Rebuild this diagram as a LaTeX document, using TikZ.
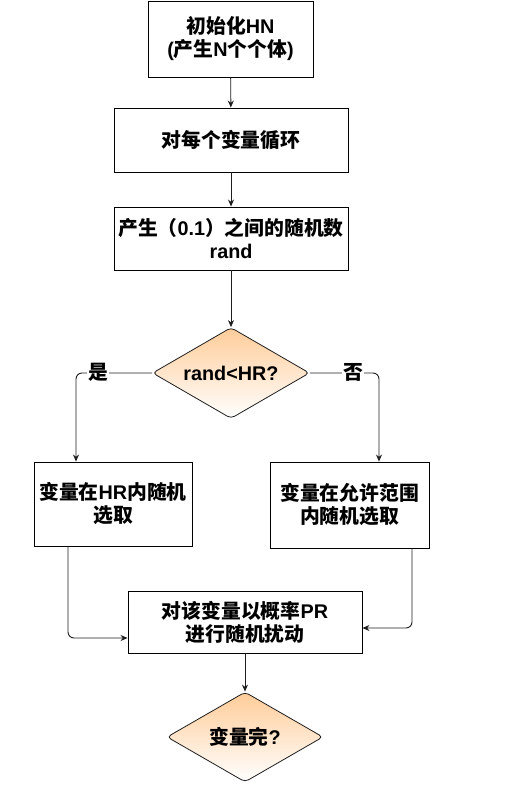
\documentclass[tikz,border=0pt]{standalone}
\usepackage{fontspec}
\setmainfont{Liberation Sans}
\newfontfamily\cjk{Noto Sans CJK SC}
\usetikzlibrary{shapes.geometric,arrows.meta}
\newcommand\zh[1]{{\cjk #1}}
\definecolor{decfill}{RGB}{255,204,153}
\definecolor{linec}{RGB}{30,30,30}
\begin{document}
\begin{tikzpicture}[x=1pt,y=-1pt,
  txt/.style={font=\fontsize{19.8}{23}\selectfont\bfseries},
  box/.style={txt, draw=black, line width=0.9pt, inner sep=0pt, align=center, fill=white},
  dec/.style={txt, diamond, draw=linec, line width=0.8pt, rounded corners=4pt,
    top color=decfill, bottom color=white, inner sep=0pt, align=center, shape aspect=1.7},
  conn/.style={draw=linec, line width=0.9pt, -{Stealth[length=7pt,width=6pt]}, rounded corners=6pt},
  lbl/.style={txt, fill=white, inner sep=1pt}]
\useasboundingbox (0,0) rectangle (531,794);
\node[box, minimum width=165pt, minimum height=76pt] (init) at (230.5,39) {\zh{初始化}HN\\(\zh{产生}N\zh{个个体})};
\node[box, minimum width=234pt, minimum height=64pt] (loop) at (231,140) {\zh{对每个变量循环}};
\node[box, minimum width=234pt, minimum height=63pt] (gen) at (231,238.5) {\zh{产生（}0.1\zh{）之间的随机数}\\rand};
\node[dec, minimum width=157pt, minimum height=91pt] (dia) at (231,373) {rand<HR?};
\node[box, minimum width=158pt, minimum height=84pt] (lbox) at (113,504) {\zh{变量在}HR\zh{内随机}\\\zh{选取}};
\node[box, minimum width=159pt, minimum height=86pt] (rbox) at (349.5,505) {\zh{变量在允许范围}\\\zh{内随机选取}};
\node[box, minimum width=234pt, minimum height=62pt] (pert) at (245,622) {\zh{对该变量以概率}PR\\\zh{进行随机扰动}};
\node[dec, minimum width=156pt, minimum height=90pt] (dia2) at (245,737) {\zh{变量完}?};
\draw[conn] (init) -- (loop);
\draw[conn] (loop) -- (gen);
\draw[conn] (gen) -- (dia);
\draw[conn] (dia.west) -| ([xshift=-37pt]lbox.north);
\draw[conn] (dia.east) -| ([xshift=29.5pt]rbox.north);
\node[lbl] (yes) at (98,372) {\zh{是}};
\node[lbl] (no) at (353,372) {\zh{否}};
\draw[conn] ([xshift=-45pt]lbox.south) |- ([yshift=-16pt]pert.west);
\draw[conn] ([xshift=62.5pt]rbox.south) |- ([yshift=-6pt]pert.east);
\draw[conn] (pert) -- (dia2);
\end{tikzpicture}
\end{document}
